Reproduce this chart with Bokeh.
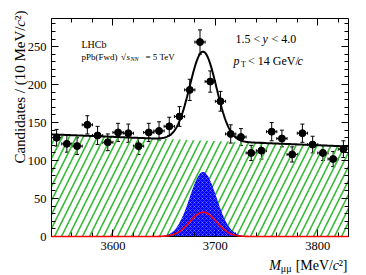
import numpy as np
from bokeh.plotting import figure
from bokeh.models import (Label, LinearAxis, SingleIntervalTicker, Range1d,
                          ColumnDataSource, Whisker, TeeHead, CustomJSTickFormatter)
from bokeh.embed import file_html
from bokeh.resources import INLINE

# ---- data ----
mass_bins = [3545, 3555, 3565, 3575, 3585, 3595, 3605, 3615, 3625, 3635,
             3645, 3655, 3665, 3675, 3685, 3695, 3705, 3715, 3725, 3735,
             3745, 3755, 3765, 3775, 3785, 3795, 3805, 3815, 3825]
candidates = [130, 122, 119, 147, 133, 124, 137, 136, 119, 137,
              139, 145, 158, 193, 256, 204, 178, 135, 131, 110,
              113, 138, 129, 108, 136, 121, 110, 102, 115]
errors = [11, 11, 11, 12, 12, 11, 12, 12, 11, 12,
          12, 12, 13, 14, 16, 14, 13, 12, 11, 10,
          11, 12, 11, 10, 12, 11, 10, 10, 11]
bin_half_width = 5

# fit-model parameters
bkg_left, bkg_right = 134.5, 118.5
psi_mean, psi_sigma = 3688.0, 13.0
prompt_amp, fromb_amp = 85.0, 32.0

x_lo, x_hi = 3540, 3830
y_lo, y_hi = 0, 287

GREEN = "#33bb33"
FONT = "Liberation Serif"
W, H = 366, 275

# pixel box of the axes frame on the canvas
FL, FR, FT, FB = 51.0, 348.0, 18.0, 236.0
sx = (FR - FL) / (x_hi - x_lo)
sy = (FB - FT) / (y_hi - y_lo)
xr = Range1d(x_lo - FL / sx, x_hi + (W - FR) / sx)
yr = Range1d(y_lo - (H - FB) / sy, y_hi + FT / sy)

xs = np.linspace(x_lo, x_hi, 581)
bkg = bkg_left + (bkg_right - bkg_left) * (xs - x_lo) / (x_hi - x_lo)
shape = np.exp(-0.5 * ((xs - psi_mean) / psi_sigma) ** 2)
prompt = prompt_amp * shape
fromb = fromb_amp * shape
total = bkg + prompt + fromb

p = figure(width=W, height=H, output_backend="svg", toolbar_location=None,
           x_range=xr, y_range=yr, min_border=0, background_fill_color="white")
p.xgrid.visible = False
p.ygrid.visible = False
p.outline_line_color = None

# background (hatched)
p.varea(x=xs, y1=0, y2=bkg, fill_alpha=0, hatch_pattern="/", hatch_color=GREEN,
        hatch_weight=1.6, hatch_scale=14)
# prompt signal (blue filled)
p.varea(x=xs, y1=0, y2=prompt, fill_color="#0000ff", hatch_pattern="x",
        hatch_color="white", hatch_alpha=0.55, hatch_weight=0.5, hatch_scale=4)
# from-b component (drawn above the frame line, as in the reference)
p.line(xs, fromb, color="#ff0000", line_width=1.6, level="overlay")
# total fit
p.line(xs, total, color="black", line_width=2)

# data points
cx = np.array(mass_bins, dtype=float)
cy = np.array(candidates, dtype=float)
ce = np.array(errors, dtype=float)
src = ColumnDataSource(dict(x=cx, y=cy, lo=cy - ce, hi=cy + ce,
                            xl=cx - bin_half_width, xh=cx + bin_half_width))
p.add_layout(Whisker(source=src, base="x", lower="lo", upper="hi", dimension="height",
                     line_color="black", line_width=1,
                     upper_head=TeeHead(size=4, line_color="black", line_width=1),
                     lower_head=TeeHead(size=4, line_color="black", line_width=1)))
p.add_layout(Whisker(source=src, base="y", lower="xl", upper="xh", dimension="width",
                     line_color="black", line_width=1,
                     upper_head=TeeHead(size=3, line_color="black", line_width=1),
                     lower_head=TeeHead(size=3, line_color="black", line_width=1)))
p.scatter("x", "y", source=src, size=7, color="black")

# axes: drawn at fixed data locations, forming the frame box
def style_axis(ax, labels=True):
    ax.major_tick_in = 7
    ax.major_tick_out = 0
    ax.minor_tick_in = 4
    ax.minor_tick_out = 0
    ax.axis_line_color = "black"
    ax.axis_line_width = 1
    ax.major_tick_line_color = "black"
    ax.minor_tick_line_color = "black"
    if labels:
        ax.major_label_text_font = FONT
        ax.major_label_text_font_size = "12.5px"
        ax.major_label_text_color = "black"
    else:
        ax.major_label_text_font_size = "0px"
        ax.major_label_standoff = 0
        ax.formatter = CustomJSTickFormatter(code="return ''")

bottom = p.xaxis[0]
left = p.yaxis[0]
bottom.ticker = SingleIntervalTicker(interval=100, num_minor_ticks=5)
left.ticker = SingleIntervalTicker(interval=50, num_minor_ticks=5)
style_axis(bottom)
style_axis(left)
bottom.major_label_standoff = 5
left.major_label_standoff = 5
bottom.fixed_location = y_lo
bottom.bounds = (x_lo, x_hi)
left.fixed_location = x_lo
left.bounds = (y_lo, y_hi)

top = LinearAxis(ticker=SingleIntervalTicker(interval=100, num_minor_ticks=5),
                 fixed_location=y_hi, bounds=(x_lo, x_hi))
right = LinearAxis(ticker=SingleIntervalTicker(interval=50, num_minor_ticks=5),
                   fixed_location=x_hi, bounds=(y_lo, y_hi))
style_axis(top, labels=False)
style_axis(right, labels=False)
p.add_layout(top, "above")
p.add_layout(right, "right")

# helpers: canvas pixel -> data coordinates
def dxp(px):
    return x_lo + (px - FL) / sx
def dyp(py):
    return y_lo + (FB - py) / sy

def txt(px, py, s, size, style="normal", align="left", baseline="alphabetic", angle=0.0):
    p.add_layout(Label(x=dxp(px), y=dyp(py), text=s, text_font=FONT,
                       text_font_size=f"{size}px", text_font_style=style,
                       text_align=align, text_baseline=baseline, angle=angle,
                       text_color="black"))

# LHCb block
txt(81, 43.5, "LHCb", 10)
txt(81, 56, "pPb(Fwd)", 9)
txt(120.5, 56, "√", 9)
txt(126, 56, "s", 9, "italic")
txt(130, 58.5, "NN", 6, "italic")
txt(145, 56, "= 5 TeV", 9)

# kinematic range
txt(235, 38.5, "1.5 <", 12)
txt(262, 38.5, "y", 12, "italic")
txt(271, 38.5, "< 4.0", 12)
txt(233, 60, "p", 12, "italic")
txt(240.5, 63.5, "T", 8)
txt(247.5, 60, "< 14 GeV/", 12)
txt(297, 60, "c", 12, "italic")

# x-axis title (right aligned at frame end)
xb = 265.0
txt(347, xb, "²]", 14, align="right")
txt(338.5, xb, "c", 14, "italic", align="right")
txt(332.5, xb, "[MeV/", 14, align="right")
txt(291, xb + 3, "μμ", 10, align="right")
txt(280.5, xb, "M", 14, "italic", align="right")

# y-axis title (rotated, aligned to top)
ytop = 10.0
txt(19, ytop, "²)", 15, align="right", baseline="middle", angle=np.pi / 2)
txt(19, ytop + 9.5, "c", 15, "italic", align="right", baseline="middle", angle=np.pi / 2)
txt(19, ytop + 16.0, "Candidates / (10 MeV/", 15, align="right", baseline="middle",
    angle=np.pi / 2)

open("out.html", "w").write(file_html(p, INLINE))
